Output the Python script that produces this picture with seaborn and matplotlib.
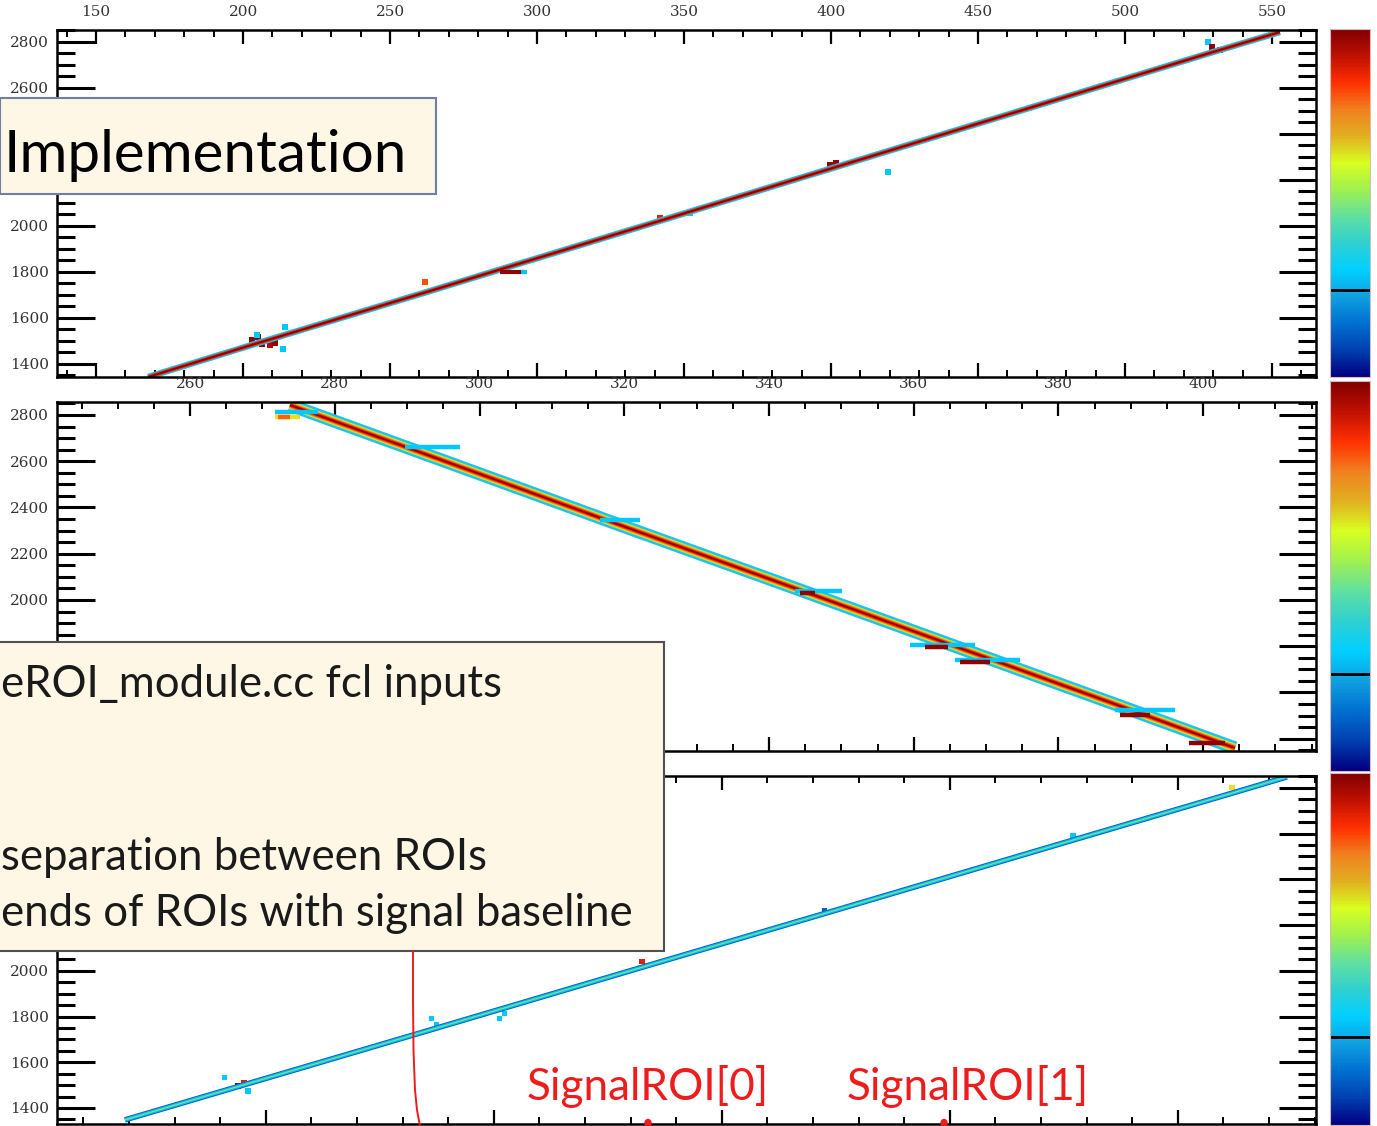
import matplotlib
matplotlib.use("Agg")
import matplotlib.pyplot as plt
import seaborn as sns
import pandas as pd
from matplotlib.colors import LinearSegmentedColormap, Normalize
from matplotlib.cm import ScalarMappable
from matplotlib.patches import Rectangle, Ellipse
from matplotlib.lines import Line2D
from matplotlib.ticker import MultipleLocator

W, H = 1377, 1126

# ---- panel 1 (top): track vertices (wire, tick)
p1_x = [167.7, 204.1, 263.6, 289.1, 341.8, 399.6, 457.5, 528.9, 552.7]
p1_y = [1343, 1487, 1717, 1817, 2022, 2248, 2474, 2752, 2843]
p1_blob_x = [203.1, 205.1, 206.5, 209.2, 210.9, 214.3, 213.6, 204.8, 261.9, 341.8, 352.0, 399.6, 401.7, 419.4, 528.2, 529.5, 532.3]
p1_blob_y = [1504, 1517, 1487, 1483, 1491, 1561, 1465, 1526, 1756, 2035, 2056, 2265, 2274, 2235, 2800, 2778, 2765]
p1_blob_c = ["#900000", "#900000", "#900000", "#c00000", "#900000", "#00c8ff", "#00c8ff", "#00c8ff",
             "#ff5000", "#e02000", "#00c8ff", "#900000", "#900000", "#00c8ff", "#00c8ff", "#900000", "#900000"]
# delta ray stubs: x0, x1, y, colour
p1_stub_x0 = [287.4, 294.5]
p1_stub_x1 = [295.9, 296.5]
p1_stub_y = [1800, 1800]
p1_stub_c = ["#900000", "#00c8ff"]

# ---- panel 2 (middle)
p2_x = [273.8, 295.9, 319.4, 344.3, 366.4, 388.5, 404.4]
p2_y = [2843, 2592, 2324, 2043, 1792, 1542, 1360]
p2_stub_x0 = [271.7, 271.7, 272.1, 289.7, 316.7, 343.6, 344.3, 359.5, 361.6, 365.7, 366.4, 387.8, 388.5, 398.0]
p2_stub_x1 = [277.7, 275.2, 273.8, 297.3, 322.2, 350.1, 346.4, 368.5, 364.8, 374.7, 370.6, 396.1, 392.7, 403.0]
p2_stub_y = [2813, 2791, 2791, 2662, 2346, 2039, 2030, 1805, 1797, 1741, 1732, 1524, 1503, 1380]
p2_stub_c = ["#00c8ff", "#e8e020", "#ff6000", "#00c8ff", "#00c8ff", "#00c8ff", "#900000", "#00c8ff",
             "#900000", "#00c8ff", "#900000", "#00c8ff", "#900000", "#900000"]

# ---- panel 3 (bottom)
p3_x = [119.1, 144.3, 186.0, 233.1, 272.6, 327.4, 361.4, 373.9]
p3_y = [1348, 1496, 1741, 2019, 2251, 2574, 2774, 2848]
p3_blob_x = [141.0, 146.1, 143.9, 145.2, 186.4, 187.5, 201.3, 202.4, 232.5, 272.6, 327.0, 361.9]
p3_blob_y = [1535, 1474, 1496, 1509, 1791, 1765, 1791, 1813, 2040, 2262, 2590, 2800]
p3_blob_c = ["#00c8ff", "#00c8ff", "#900000", "#e02000", "#00c8ff", "#00c8ff", "#00c8ff", "#00c8ff",
             "#e02000", "#0060d0", "#00c8ff", "#e8e020"]

# y labels that sit under the slide boxes in the reference
p1_hidden = [2200, 2400]
p2_hidden = [1400, 1600, 1800]
p3_hidden = [2200, 2400, 2600, 2800]

cmap_colors = ["#000080", "#0040b0", "#0070d0", "#10a0e0", "#00d0ff", "#30d0d0", "#60e0a0",
               "#a0f050", "#d8ff20", "#e0b020", "#f08020", "#ff3000", "#c01000", "#800000"]

sns.set_theme(style="ticks")
plt.rcParams["axes.linewidth"] = 1.8
plt.rcParams["axes.edgecolor"] = "black"

fig = plt.figure(figsize=(W / 100, H / 100), dpi=100)


def fig_box(x0, y0, x1, y1):
    return [x0 / W, 1 - y1 / H, (x1 - x0) / W, (y1 - y0) / H]


ax1 = fig.add_axes(fig_box(57, 30, 1316, 377))
ax2 = fig.add_axes(fig_box(57, 402, 1316, 751))
ax3 = fig.add_axes(fig_box(57, 776, 1316, 1124))


def draw_track(ax, xs, ys, layers):
    df = pd.DataFrame({"x": xs, "y": ys})
    for color, lw in layers:
        sns.lineplot(data=df, x="x", y="y", ax=ax, color=color, linewidth=lw,
                     sort=False, estimator=None, solid_capstyle="butt")


def draw_stubs(ax, x0s, x1s, ys, colors, lw):
    for a, b, y, c in zip(x0s, x1s, ys, colors):
        ax.plot([a, b], [y, y], color=c, linewidth=lw, solid_capstyle="butt")


draw_track(ax1, p1_x, p1_y, [("#00c8ff", 4.6), ("#ff3000", 2.8), ("#900000", 1.5)])
draw_stubs(ax1, p1_stub_x0, p1_stub_x1, p1_stub_y, p1_stub_c, 3.0)
sns.scatterplot(x=p1_blob_x, y=p1_blob_y, c=p1_blob_c, marker="s", s=18, linewidth=0, ax=ax1)

draw_track(ax2, p2_x, p2_y, [("#20c0f0", 9.5), ("#b0f040", 6.0), ("#ff9000", 4.2),
                              ("#ff2000", 2.8), ("#900000", 1.3)])
draw_stubs(ax2, p2_stub_x0, p2_stub_x1, p2_stub_y, p2_stub_c, 3.2)

draw_track(ax3, p3_x, p3_y, [("#0060d0", 4.0), ("#00c0ff", 2.6), ("#90e860", 0.8)])
sns.scatterplot(x=p3_blob_x, y=p3_blob_y, c=p3_blob_c, marker="s", s=14, linewidth=0, ax=ax3)


def style_axis(ax, xlim, ylim, xmaj, xmin_, labels, hidden):
    ax.set_xlim(xlim)
    ax.set_ylim(ylim)
    ax.set_xlabel("")
    ax.set_ylabel("")
    ax.xaxis.set_major_locator(MultipleLocator(xmaj))
    ax.xaxis.set_minor_locator(MultipleLocator(xmin_))
    yt = list(range(1400, 2801, 200))
    ax.set_yticks(yt)
    ax.set_yticklabels(["" if v in hidden else str(v) for v in yt])
    ax.yaxis.set_minor_locator(MultipleLocator(50))
    ax.tick_params(axis="both", which="both", direction="in", top=True, bottom=True,
                   left=True, right=True, colors="black")
    ax.tick_params(axis="x", labeltop=labels, labelbottom=False, pad=8)
    ax.tick_params(axis="x", which="major", length=10, width=1.6)
    ax.tick_params(axis="x", which="minor", length=5, width=1.4)
    ax.tick_params(axis="y", which="major", length=27, width=2.2, pad=6)
    ax.tick_params(axis="y", which="minor", length=13, width=2.2)
    ax.tick_params(labelsize=11, labelcolor="#333333", labelfontfamily="DejaVu Serif")


style_axis(ax1, (136.7, 565.0), (1343, 2852), 50, 10, True, p1_hidden)
style_axis(ax2, (241.6, 415.6), (1347, 2856), 20, 5, True, p2_hidden)
style_axis(ax3, (104.2, 380.3), (1330, 2852), 50, 10, False, p3_hidden)

# colour scales
cmap = LinearSegmentedColormap.from_list("rainbow_root", cmap_colors)
for (y0, y1) in [(29, 377), (381, 771), (773, 1125)]:
    cax = fig.add_axes(fig_box(1330, y0, 1370, y1))
    cb = fig.colorbar(ScalarMappable(norm=Normalize(0, 1), cmap=cmap), cax=cax)
    cb.set_ticks([])
    cb.outline.set_edgecolor("#d8b8b8")
    cb.outline.set_linewidth(0.8)
    cax.axhline(0.25, color="black", linewidth=2)

# slide overlay boxes
cream = "#fef7e5"
fig.add_artist(Rectangle((0, 1 - 194 / H), 436 / W, 96 / H, transform=fig.transFigure,
                         facecolor=cream, edgecolor="#6f7fa3", linewidth=1.5, zorder=10))
fig.text(4 / W, 1 - 172 / H, "Implementation", fontsize=42, family="Lato",
         va="baseline", ha="left", color="black", zorder=11)

fig.add_artist(Rectangle((-2 / W, 1 - 951 / H), 666 / W, 309 / H, transform=fig.transFigure,
                         facecolor=cream, edgecolor="#505050", linewidth=1.5, zorder=10))
box_lines = ["eROI_module.cc fcl inputs", "separation between ROIs", "ends of ROIs with signal baseline"]
box_base = [697, 870, 926]
for txt, yb in zip(box_lines, box_base):
    fig.text(1 / W, 1 - yb / H, txt, fontsize=31.5, family="Lato", va="baseline",
             ha="left", color="#1a1a1a", zorder=11)

red = "#ee1c1c"
fig.text(527 / W, 1 - 1100 / H, "SignalROI[0]", fontsize=31.8, family="Lato", va="baseline",
         ha="left", color=red, zorder=11)
fig.text(847 / W, 1 - 1100 / H, "SignalROI[1]", fontsize=31.8, family="Lato", va="baseline",
         ha="left", color=red, zorder=11)

curve_x = [413, 413, 413.5, 415, 417, 420]
curve_y = [951, 1000, 1050, 1090, 1110, 1126]
fig.add_artist(Line2D([v / W for v in curve_x], [1 - v / H for v in curve_y],
                      transform=fig.transFigure, color=red, linewidth=1.4, zorder=11))
for px in [648, 944]:
    fig.add_artist(Ellipse((px / W, 1 - 1123 / H), 6 / W, 7 / H, transform=fig.transFigure,
                           color=red, zorder=11))

fig.savefig("out.png", dpi=100)
